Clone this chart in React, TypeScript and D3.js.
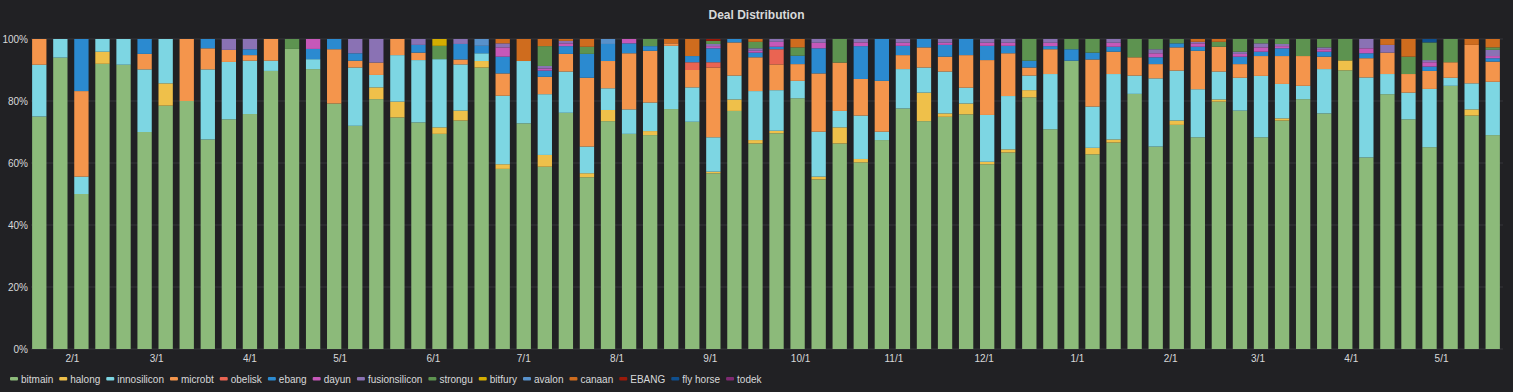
import React, { useEffect, useRef } from 'react';
import * as d3 from 'd3';

const W = 1513;
const H = 392;

const seriesNames = ['bitmain', 'halong', 'innosilicon', 'microbt', 'obelisk', 'ebang', 'dayun', 'fusionsilicon', 'strongu', 'bitfury', 'avalon', 'canaan', 'EBANG', 'fly horse', 'todek'];
const seriesColors = ['#8cba7a', '#efc04a', '#7dd6e3', '#f4954c', '#ea6452', '#2b8ad0', '#c658b9', '#8a72b4', '#5d9350', '#d4ad00', '#5891cb', '#cf6c1e', '#9b1a0a', '#0f4f8e', '#7e2a71'];

const firstWeek = '2019-01-21';

const bitmain = [75, 94, 50, 92, 91.7, 70, 78.5, 80, 67.6, 74.1,
  75.8, 89.7, 96.8, 90.2, 79.2, 72, 80.6, 74.7, 73.1, 69.4,
  73.7, 90.8, 58.1, 72.8, 58.8, 76.2, 55.4, 73.5, 69.4, 69,
  77.4, 73.3, 56.7, 76.8, 66.3, 69.6, 80.9, 54.7, 66.3, 60.2,
  67.4, 77.6, 73.5, 74.9, 75.7, 59.6, 63.4, 81.2, 70.9, 93,
  62.8, 66.6, 82.3, 65.3, 72.3, 68.3, 79.8, 76.9, 68.3, 73.7,
  80.6, 76, 89.9, 61.8, 82.2, 74.1, 65.1, 84.9, 75.3, 69];
const halong = [0, 0, 0, 3.9, 0, 0, 7.2, 0, 0, 0,
  0, 0, 0, 0, 0, 0, 3.8, 5.1, 0, 2.1,
  3.2, 2.1, 1.5, 0, 3.8, 0, 1.3, 3.6, 0, 1.3,
  0, 0, 0.5, 3.7, 1.1, 0.8, 0, 0.9, 5.2, 1.1,
  0, 0, 9.2, 1.1, 3.5, 0.8, 1, 2.3, 0, 0,
  2.1, 1, 0, 0, 1.4, 0, 0.7, 0, 0, 0.7,
  0, 0, 3.2, 0, 0, 0, 0, 0, 2, 0];
const innosilicon = [16.7, 6, 5.6, 4.1, 8.3, 20.2, 14.3, 0, 22.6, 18.5,
  17.2, 3.3, 0, 3.2, 0, 18.8, 4, 15, 20.1, 22,
  14.9, 2.5, 22.1, 20.1, 19.6, 13.3, 8.6, 7, 7.9, 9.2,
  20.4, 11.1, 11.1, 7.7, 15.8, 13.1, 5.6, 14.5, 5.3, 14,
  2.7, 12.7, 8.1, 13.5, 5.1, 15.1, 17.2, 4.7, 17.8, 0,
  13.3, 21.1, 5.9, 22, 16.1, 15.5, 9, 10.6, 19.8, 11.1,
  4.3, 14.3, 0, 25.8, 6.5, 8.6, 18.8, 2.6, 8.4, 17.2];
const microbt = [8.3, 0, 27.6, 0, 0, 5, 0, 20, 6.8, 3.9,
  1.8, 7, 0, 0, 17.5, 2.2, 4, 5.2, 2.4, 0,
  1.6, 0, 7.2, 0, 5.6, 5.7, 22.2, 8.8, 18.1, 16.7,
  0.8, 5.6, 22.5, 10.7, 10.9, 8.3, 5.4, 18.8, 15.6, 11.8,
  16.4, 4.5, 6.5, 4.8, 10.5, 17.7, 13.8, 2.6, 8, 0,
  15.2, 7.2, 5.9, 4.6, 7.5, 12.4, 8, 4.4, 6.4, 9,
  9.6, 4, 0, 6.2, 6.9, 6, 5.8, 5, 12.4, 6.5];
const obelisk = [0, 0, 0, 0, 0, 0, 0, 0, 0, 0,
  0, 0, 0, 0, 0, 0, 0, 0, 0, 0,
  0, 0, 0, 0, 0, 0, 0, 0, 0, 0,
  0, 2.5, 1.7, 0, 0, 4.9, 0, 0, 0, 0,
  0, 0, 0, 0, 0, 0, 0, 0, 0, 0,
  0, 0, 0, 0, 0, 0, 0, 0, 0, 0,
  0, 0, 0, 0, 0, 0, 0, 0, 0, 0];
const ebang = [0, 0, 16.8, 0, 0, 4.8, 0, 0, 3, 0,
  1.9, 0, 0, 3.3, 3.3, 2.4, 0, 0, 2.5, 0,
  5, 2.4, 5.4, 0, 2, 2.5, 7.7, 5.5, 3.2, 1.5,
  0, 2, 4.5, 1.1, 1.5, 0.8, 2.7, 8.1, 0, 10.6,
  13.5, 3, 2.7, 3.8, 5.2, 4.6, 2.4, 2.2, 1, 3.7,
  2.2, 1.6, 0, 2.2, 1.3, 1.3, 0, 2.4, 1.4, 2.5,
  0, 1.6, 0, 1.6, 0, 0, 1.4, 0, 0, 1.1];
const dayun = [0, 0, 0, 0, 0, 0, 0, 0, 0, 0,
  0, 0, 0, 3.2, 0, 0, 0, 0, 0, 0,
  0, 0, 3, 0, 0.7, 0.9, 0, 0, 1.4, 0,
  0, 0, 0.7, 0, 0.6, 1.6, 0, 1.8, 0, 1.2,
  0, 1, 0, 0.7, 0, 1, 1, 0, 1.1, 0,
  0, 1.3, 0, 1.3, 0, 1.1, 0, 0.9, 1.4, 0.7,
  0, 0.8, 0, 1.6, 0, 0, 1.4, 0, 0, 0.7];
const fusionsilicon = [0, 0, 0, 0, 0, 0, 0, 0, 0, 3.5,
  3.3, 0, 0, 0, 0, 4.6, 7.6, 0, 1.9, 0,
  1.6, 0, 1.3, 0, 0.8, 0.8, 0, 0, 0, 0,
  0, 0, 0.7, 0, 0.8, 0.9, 0, 1.2, 0, 1.1,
  0, 1.2, 0, 1.2, 0, 1.2, 1.2, 0, 1.2, 0,
  0, 1.2, 0, 1.3, 0, 0.5, 0, 0.7, 1.3, 0.7,
  0, 0.6, 0, 3, 2.5, 0, 0.7, 0, 0, 2];
const strongu = [0, 0, 0, 0, 0, 0, 0, 0, 0, 0,
  0, 0, 3.2, 0, 0, 0, 0, 0, 0, 4.3,
  0, 0, 0, 0, 6.4, 0, 2.3, 0, 0, 2.3,
  0, 0, 1, 0, 2.1, 0, 2.7, 0, 7.6, 0,
  0, 0, 0, 0, 0, 0, 0, 7, 0, 3.3,
  4.4, 0, 5.9, 3.3, 1.4, 0, 1.6, 4.1, 1.4, 1.6,
  5.5, 2.7, 6.9, 0, 0, 5.6, 5.7, 7.5, 0, 0.8];
const bitfury = [0, 0, 0, 0, 0, 0, 0, 0, 0, 0,
  0, 0, 0, 0, 0, 0, 0, 0, 0, 2.2,
  0, 0, 0, 0, 0, 0, 0, 0, 0, 0,
  0, 0, 0, 0, 0, 0, 0, 0, 0, 0,
  0, 0, 0, 0, 0, 0, 0, 0, 0, 0,
  0, 0, 0, 0, 0, 0, 0, 0, 0, 0,
  0, 0, 0, 0, 0, 0, 0, 0, 0, 0];
const avalon = [0, 0, 0, 0, 0, 0, 0, 0, 0, 0,
  0, 0, 0, 0, 0, 0, 0, 0, 0, 0,
  0, 2.2, 0, 0, 0, 0, 0, 1.6, 0, 0,
  0, 0, 0, 0, 0, 0, 0, 0, 0, 0,
  0, 0, 0, 0, 0, 0, 0, 0, 0, 0,
  0, 0, 0, 0, 0, 0, 0, 0, 0, 0,
  0, 0, 0, 0, 0, 0, 0, 0, 0, 0];
const canaan = [0, 0, 0, 0, 0, 0, 0, 0, 0, 0,
  0, 0, 0, 0, 0, 0, 0, 0, 0, 0,
  0, 0, 1.4, 7.1, 2.3, 0.6, 2.5, 0, 0, 0,
  1.4, 5.5, 0, 0, 0.9, 0, 2.7, 0, 0, 0,
  0, 0, 0, 0, 0, 0, 0, 0, 0, 0,
  0, 0, 0, 0, 0, 0.9, 0.9, 0, 0, 0,
  0, 0, 0, 0, 1.9, 5.7, 0, 0, 1.9, 2.7];
const EBANG = [0, 0, 0, 0, 0, 0, 0, 0, 0, 0,
  0, 0, 0, 0, 0, 0, 0, 0, 0, 0,
  0, 0, 0, 0, 0, 0, 0, 0, 0, 0,
  0, 0, 0.6, 0, 0, 0, 0, 0, 0, 0,
  0, 0, 0, 0, 0, 0, 0, 0, 0, 0,
  0, 0, 0, 0, 0, 0, 0, 0, 0, 0,
  0, 0, 0, 0, 0, 0, 0, 0, 0, 0];
const flyHorse = [0, 0, 0, 0, 0, 0, 0, 0, 0, 0,
  0, 0, 0, 0, 0, 0, 0, 0, 0, 0,
  0, 0, 0, 0, 0, 0, 0, 0, 0, 0,
  0, 0, 0, 0, 0, 0, 0, 0, 0, 0,
  0, 0, 0, 0, 0, 0, 0, 0, 0, 0,
  0, 0, 0, 0, 0, 0, 0, 0, 0, 0,
  0, 0, 0, 0, 0, 0, 1.1, 0, 0, 0];
const todek = [0, 0, 0, 0, 0, 0, 0, 0, 0, 0,
  0, 0, 0, 0, 0, 0, 0, 0, 0, 0,
  0, 0, 0, 0, 0, 0, 0, 0, 0, 0,
  0, 0, 0, 0, 0, 0, 0, 0, 0, 0,
  0, 0, 0, 0, 0, 0, 0, 0, 0, 0,
  0, 0, 0, 0, 0, 0, 0, 0, 0, 0,
  0, 0, 0, 0, 0, 0, 0, 0, 0, 0];

const seriesValues = [bitmain, halong, innosilicon, microbt, obelisk, ebang, dayun, fusionsilicon, strongu, bitfury, avalon, canaan, EBANG, flyHorse, todek];
const yTicks = [0, 0.2, 0.4, 0.6, 0.8, 1];

const FONT = '"Liberation Sans", Arial, Helvetica, sans-serif';

export default function App() {
  const ref = useRef<SVGSVGElement>(null);

  useEffect(() => {
    const svg = d3.select(ref.current);
    svg.selectAll('*').remove();

    const plotLeft = 31;
    const plotRight = 1503;
    const plotTop = 39;
    const plotBottom = 349;

    const start = d3.isoParse(firstWeek + 'T00:00:00Z') as Date;
    const dates = bitmain.map((_, i) => d3.utcDay.offset(start, i * 7));

    const x = d3.scaleUtc()
      .domain([new Date(Date.UTC(2019, 0, 18, 6)), new Date(Date.UTC(2020, 4, 21, 10))])
      .range([plotLeft, plotRight]);
    const y = d3.scaleLinear().domain([0, 1]).range([plotBottom, plotTop]);

    const rows = dates.map((d, i) => {
      const r: any = { date: d };
      seriesNames.forEach((n, k) => { r[n] = seriesValues[k][i]; });
      return r;
    });
    const stack = d3.stack<any>().keys(seriesNames).offset(d3.stackOffsetExpand);
    const layers = stack(rows);

    svg.append('rect').attr('width', W).attr('height', H).attr('fill', '#212124');

    svg.append('text')
      .attr('x', W / 2).attr('y', 19)
      .attr('text-anchor', 'middle')
      .attr('font-family', FONT).attr('font-size', 12).attr('font-weight', 'bold')
      .attr('fill', '#d8d9da')
      .text('Deal Distribution');

    const g = svg.append('g');
    g.selectAll('line.h').data(yTicks).enter().append('line')
      .attr('x1', plotLeft).attr('x2', plotRight)
      .attr('y1', d => y(d)).attr('y2', d => y(d))
      .attr('stroke', '#37373b').attr('stroke-width', 1);

    g.selectAll('text.y').data(yTicks).enter().append('text')
      .attr('x', plotLeft - 3).attr('y', d => y(d) + 3.5)
      .attr('text-anchor', 'end')
      .attr('font-family', FONT).attr('font-size', 10)
      .attr('fill', '#d8d9da')
      .text(d => d3.format('.0%')(d));

    const monthTicks = x.ticks(d3.utcMonth.every(1) as any);
    g.selectAll('text.x').data(monthTicks).enter().append('text')
      .attr('x', d => x(d)).attr('y', plotBottom + 13)
      .attr('text-anchor', 'middle')
      .attr('font-family', FONT).attr('font-size', 10)
      .attr('fill', '#d8d9da')
      .text(d => d3.utcFormat('%-m/%-d')(d));

    const barW = (x(dates[1]) - x(dates[0])) * 0.68;
    layers.forEach((layer, k) => {
      svg.append('g').selectAll('rect').data(layer).enter().append('rect')
        .attr('x', d => x(d.data.date) - barW / 2)
        .attr('width', barW)
        .attr('y', d => y(d[1]))
        .attr('height', d => Math.max(0, y(d[0]) - y(d[1])))
        .attr('fill', seriesColors[k]);
    });

    const ctx = document.createElement('canvas').getContext('2d')!;
    const legendFont = 10;
    ctx.font = `${legendFont}px "Liberation Sans", Arial`;
    let lx = 10;
    const ly = 379;
    const lg = svg.append('g');
    seriesNames.forEach((n, k) => {
      lg.append('rect').attr('x', lx).attr('y', ly - 2).attr('width', 8).attr('height', 3.5)
        .attr('rx', 1).attr('fill', seriesColors[k]);
      lg.append('text').attr('x', lx + 11).attr('y', ly + 3.5)
        .attr('font-family', FONT).attr('font-size', legendFont)
        .attr('fill', '#d8d9da').text(n);
      lx += 11 + ctx.measureText(n).width + 6;
    });
  }, []);

  return (
    <div style={{ position: 'absolute', left: 0, top: 0, width: W, height: H, background: '#212124' }}>
      <svg ref={ref} width={W} height={H} style={{ display: 'block' }} />
    </div>
  );
}
